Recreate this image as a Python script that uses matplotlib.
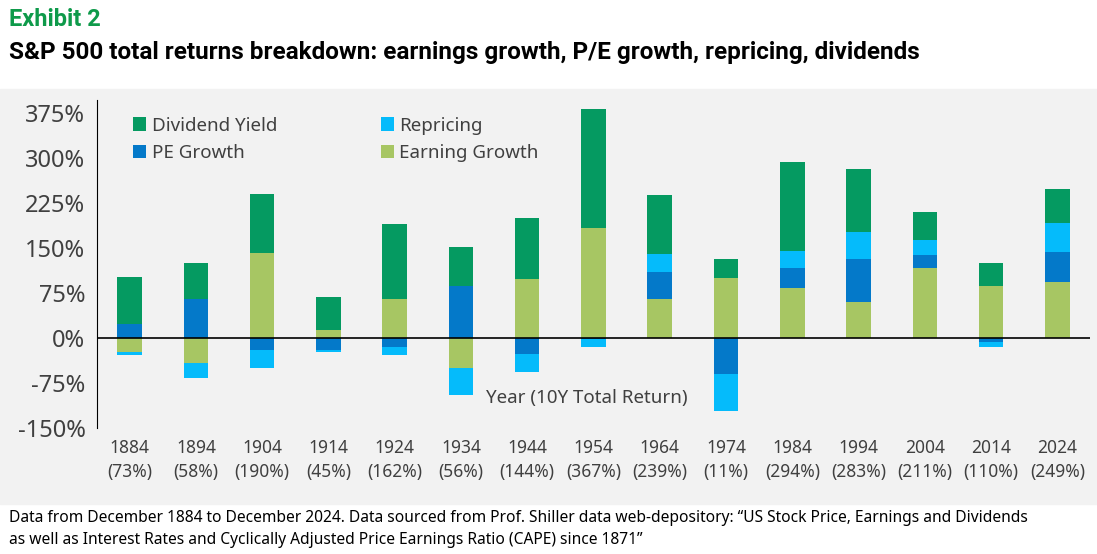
import matplotlib.pyplot as plt
import numpy as np

plt.rcParams['font.family'] = ['Noto Sans', 'DejaVu Sans']

years = ['1884', '1894', '1904', '1914', '1924', '1934', '1944', '1954',
         '1964', '1974', '1984', '1994', '2004', '2014', '2024']
total = ['73%', '58%', '190%', '45%', '162%', '56%', '144%', '367%',
         '239%', '11%', '294%', '283%', '211%', '110%', '249%']
earning = [-23, -41, 141, 14, 66, -50, 98, 183, 66, 100, 83, 61, 116, 87, 93]
pe = [23, 66, -20, -20, -15, 87, -27, -2, 44, -59, 34, 71, 22, -7, 51]
repricing = [-5, -26, -30, -3, -13, -45, -29, -13, 30, -62, 28, 45, 25, -8, 48]
dividend = [79, 59, 99, 54, 124, 65, 102, 198, 98, 32, 148, 104, 47, 38, 56]

series = [('Earning Growth', earning, '#a7c663'),
          ('PE Growth', pe, '#0479c9'),
          ('Repricing', repricing, '#05bbfb'),
          ('Dividend Yield', dividend, '#059a61')]

fig = plt.figure(figsize=(10.97, 5.54), dpi=100)
fig.patch.set_facecolor('white')
ax = fig.add_axes([0.088, 0.227, 0.906, 0.593])
ax.set_facecolor('#f2f2f2')
fig.patches.append(plt.Rectangle((0, 0.09), 1, 0.75, transform=fig.transFigure,
                                 color='#f2f2f2', zorder=-10))

x = np.arange(len(years))
pos = np.zeros(len(years))
neg = np.zeros(len(years))
handles = {}
for name, vals, col in series:
    v = np.array(vals, dtype=float)
    b = np.where(v >= 0, pos, neg)
    h = ax.bar(x, v, 0.37, bottom=b, color=col, label=name)
    handles[name] = h
    pos = pos + np.where(v >= 0, v, 0)
    neg = neg + np.where(v < 0, v, 0)

ax.axhline(0, color='black', lw=1.2)
ax.set_xlim(-0.5, len(years) - 0.5)
ax.set_ylim(-150, 397)
ax.set_yticks([-150, -75, 0, 75, 150, 225, 300, 375])
ax.set_yticklabels([f'{t}%' for t in [-150, -75, 0, 75, 150, 225, 300, 375]],
                   fontsize=17, color='#404040')
ax.set_xticks(x)
ax.set_xticklabels([f'{y}\n({t})' for y, t in zip(years, total)],
                   fontsize=12.5, color='#404040', linespacing=1.4)
ax.tick_params(length=0, pad=8)
for s in ['top', 'right', 'bottom']:
    ax.spines[s].set_visible(False)
ax.spines['left'].set_color('black')

ax.text(6.9, -100, 'Year (10Y Total Return)', fontsize=13.5, color='#404040',
        ha='center', va='center')

order = ['Dividend Yield', 'PE Growth', 'Repricing', 'Earning Growth']
ax.legend([handles[n] for n in order], order, ncol=2, loc='upper left',
          bbox_to_anchor=(0.02, 1.0), frameon=False, fontsize=13.5,
          handlelength=0.7, handleheight=0.7, handletextpad=0.3,
          columnspacing=5.5, labelcolor='#404040')

fig.text(0.008, 0.965, 'Exhibit 2', fontsize=17, fontweight='bold', color='#0e9a4a',
         va='center', family=['Roboto', 'DejaVu Sans'])
fig.text(0.008, 0.905, 'S&P 500 total returns breakdown: earnings growth, P/E growth, repricing, dividends',
         fontsize=17.5, fontweight='bold', color='black', va='center',
         family=['Roboto', 'DejaVu Sans'])
fig.text(0.008, 0.045,
         'Data from December 1884 to December 2024. Data sourced from Prof. Shiller data web-depository: \u201cUS Stock Price, Earnings and Dividends\n'
         'as well as Interest Rates and Cyclically Adjusted Price Earnings Ratio (CAPE) since 1871\u201d',
         fontsize=11.2, color='black', va='center', linespacing=1.5)

fig.savefig('out.png', dpi=100)
